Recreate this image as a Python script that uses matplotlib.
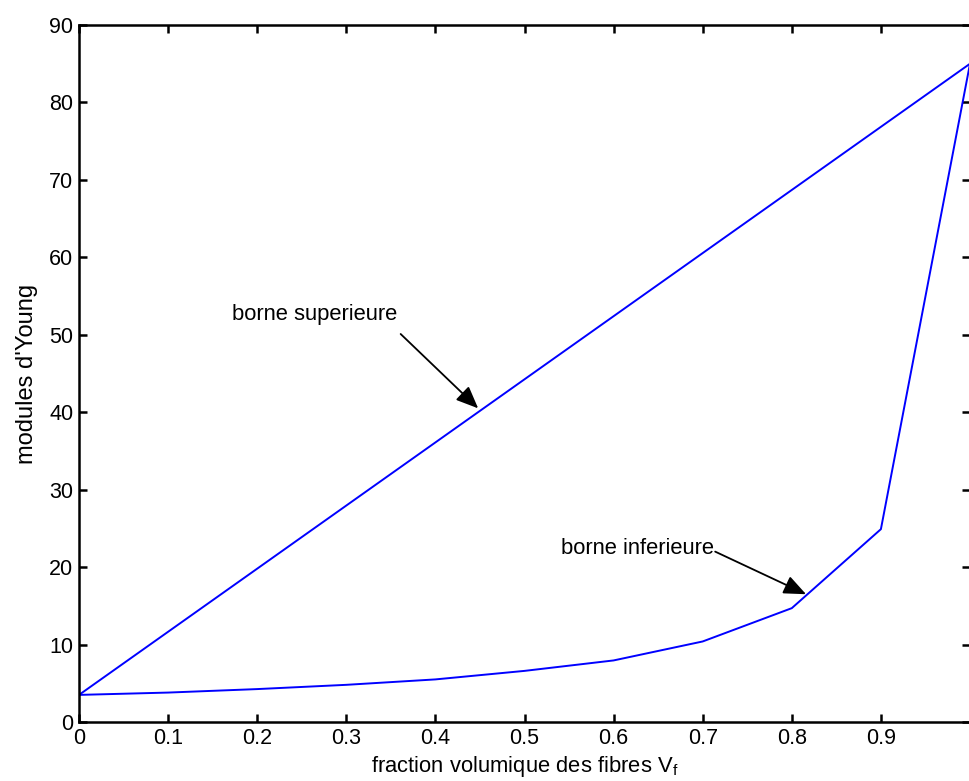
import matplotlib
matplotlib.use("Agg")
import matplotlib.pyplot as plt

plt.rcParams['font.family'] = ['Liberation Sans', 'DejaVu Sans']

# Fibre volume fraction
vf = [0.0, 0.1, 0.2, 0.3, 0.4, 0.5, 0.6, 0.7, 0.8, 0.9, 1.0]
# Upper bound (Voigt) and lower bound (Reuss) of Young's modulus
e_sup = [3.5, 11.65, 19.8, 27.95, 36.1, 44.25, 52.4, 60.55, 68.7, 76.85, 85.0]
e_inf = [3.5, 3.8, 4.25, 4.8, 5.5, 6.6, 7.95, 10.4, 14.7, 24.9, 85.0]

xticks = [0, 0.1, 0.2, 0.3, 0.4, 0.5, 0.6, 0.7, 0.8, 0.9, 1.0]
xticklabels = ['0', '0.1', '0.2', '0.3', '0.4', '0.5', '0.6', '0.7', '0.8', '0.9', '']
yticks = [0, 10, 20, 30, 40, 50, 60, 70, 80, 90]

FS_TICK = 15.5
FS_TXT = 15.8

fig = plt.figure(figsize=(9.69, 7.81), dpi=100)
ax = fig.add_axes([79 / 969, 1 - 722 / 781, 891 / 969, (722 - 25) / 781])

ax.plot(vf, e_sup, color='#0000ff', lw=1.4)
ax.plot(vf, e_inf, color='#0000ff', lw=1.4)

ax.set_xlim(0, 1)
ax.set_ylim(0, 90)
ax.set_xticks(xticks)
ax.set_xticklabels(xticklabels)
ax.set_yticks(yticks)
ax.tick_params(direction='in', length=6, width=1.8, labelsize=FS_TICK,
               top=True, right=True, pad=4)
for s in ax.spines.values():
    s.set_linewidth(1.8)

ax.set_xlabel('fraction volumique des fibres V$_\\mathregular{f}$', fontsize=FS_TXT, labelpad=4)
ax.set_ylabel("modules d'Young", fontsize=17, labelpad=8)

arrow = dict(arrowstyle='-|>,head_length=0.85,head_width=0.36', color='black',
             lw=1.3, shrinkA=0, shrinkB=0, mutation_scale=16)

# upper bound label and arrow
ax.text(0.172, 52.6, 'borne superieure', fontsize=FS_TXT, ha='left', va='center')
ax.annotate('', xy=(0.448, 40.5), xytext=(0.361, 50.1), arrowprops=arrow)

# lower bound label and arrow
ax.text(0.541, 22.4, 'borne inferieure', fontsize=FS_TXT, ha='left', va='center')
ax.annotate('', xy=(0.816, 16.5), xytext=(0.714, 22.0), arrowprops=arrow)

fig.savefig('out.png', dpi=100)
